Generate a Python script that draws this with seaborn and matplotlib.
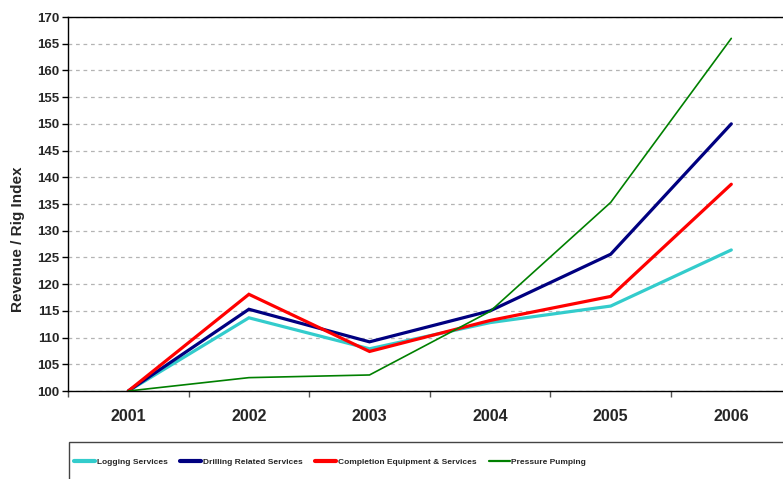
import numpy as np
import pandas as pd
import matplotlib
matplotlib.use("Agg")
import matplotlib.pyplot as plt
from matplotlib.patches import Rectangle
import seaborn as sns

# Index values (2001 = 100)
years = ["2001", "2002", "2003", "2004", "2005", "2006"]
logging_services = [100.0, 113.7, 107.9, 112.8, 115.9, 126.4]
drilling_related = [100.0, 115.3, 109.2, 115.0, 125.6, 150.0]
completion_equipment = [100.0, 118.1, 107.4, 113.2, 117.7, 138.7]
pressure_pumping = [100.0, 102.5, 103.0, 114.9, 135.3, 166.0]

series_names = [
    "Logging Services",
    "Drilling Related Services",
    "Completion Equipment & Services",
    "Pressure Pumping",
]
series_values = [logging_services, drilling_related, completion_equipment, pressure_pumping]
series_colors = ["#33CCCC", "#000080", "#FF0000", "#008000"]
series_widths = [2.3, 2.3, 2.3, 1.2]

y_ticks = list(range(100, 171, 5))

df = pd.DataFrame({
    "Year": np.tile(np.arange(len(years)), len(series_names)),
    "Index": np.concatenate(series_values),
    "Series": np.repeat(series_names, len(years)),
})

sns.set_style("white")
plt.rcParams["font.family"] = ["Liberation Sans", "DejaVu Sans"]
plt.rcParams["font.weight"] = "bold"

W, H = 783, 479
fig = plt.figure(figsize=(W / 100, H / 100), dpi=100)
ax = fig.add_axes([68 / W, 88 / H, 723.6 / W, 374 / H])

sns.lineplot(
    data=df, x="Year", y="Index", hue="Series", hue_order=series_names,
    palette=series_colors, ax=ax, legend=False, sort=False,
)
for line, lw in zip(ax.get_lines(), series_widths):
    line.set_linewidth(lw)
    line.set_solid_joinstyle("miter")

ax.set_xlim(-0.5, len(years) - 0.5)
ax.set_ylim(100, 170)

# Category labels at centres, tick marks at category boundaries
ax.set_xticks(range(len(years)))
ax.set_xticklabels(years, fontsize=11.5, fontweight="bold")
ax.tick_params(axis="x", which="major", length=0, pad=13)
ax.set_xticks(np.arange(-0.5, len(years), 1.0), minor=True)
ax.tick_params(axis="x", which="minor", length=4, width=1, color="#555555",
               direction="out", bottom=True)

ax.set_yticks(y_ticks)
ax.set_yticklabels([str(t) for t in y_ticks], fontsize=9.5, fontweight="bold")
ax.tick_params(axis="y", length=4, width=1, color="black", direction="out",
               left=True, pad=2)

ax.yaxis.grid(True, color="#B4B4B4", linestyle=(0, (3, 3)), linewidth=0.9)
ax.xaxis.grid(False)
for side in ["left", "top", "bottom", "right"]:
    ax.spines[side].set_color("black")
    ax.spines[side].set_linewidth(1.0)

ax.set_xlabel("")
ax.set_ylabel("Revenue / Rig Index", fontsize=11, fontweight="bold")
ax.yaxis.set_label_coords((25 - 68) / 723.6, (391 - 239) / 374)

# Legend box along the bottom edge
fig.add_artist(Rectangle((69 / W, -0.05), 0.99, 1.05 - 441.7 / H,
                         transform=fig.transFigure, facecolor="white",
                         edgecolor="#444444", linewidth=1.0))
handles = [plt.Line2D([], [], color=c, lw=3 if w > 2 else 1.6)
           for c, w in zip(series_colors, series_widths)]
leg = fig.legend(
    handles, series_names, loc="center left",
    bbox_to_anchor=(74 / W, 1 - 462.3 / H), ncol=4, frameon=False,
    prop={"size": 6.0, "weight": "bold"},
    handlelength=2.5, handletextpad=0.22, columnspacing=1.5, borderpad=0,
    borderaxespad=0,
)

fig.savefig("out.png", dpi=100)
